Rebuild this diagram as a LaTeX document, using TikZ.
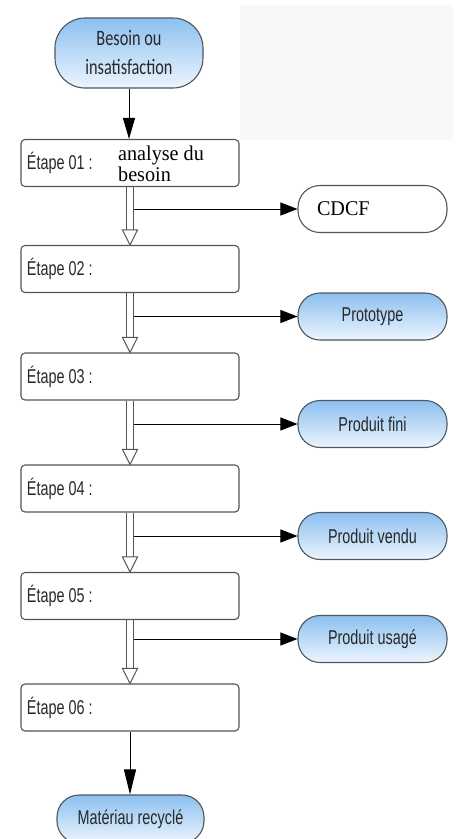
\documentclass[tikz,border=0pt]{standalone}
\usepackage{fontspec}
\setmainfont{Liberation Sans}
\newfontfamily\nsans[FakeStretch=0.72]{Liberation Sans}
\newfontfamily\ncal[FakeStretch=0.74]{Carlito}
\newfontfamily\tserif[FakeStretch=0.96]{Liberation Serif}
\usetikzlibrary{arrows.meta,calc}
\definecolor{edge}{RGB}{80,86,92}
\definecolor{txt}{RGB}{40,40,40}
\definecolor{blueTop}{RGB}{140,192,240}
\definecolor{blueBot}{RGB}{236,245,253}
\definecolor{faint}{RGB}{248,248,248}
\tikzset{
 stepbox/.style={draw=edge, line width=1.1pt, rounded corners=4pt, fill=white, minimum width=218pt, minimum height=47pt, text width=206pt, align=flush left, inner xsep=6pt, font=\nsans\fontsize{20}{22}\selectfont, text=txt},
 term/.style={draw=edge, line width=1.1pt, rounded corners=22pt, minimum width=149pt, minimum height=47pt, top color=blueTop, bottom color=blueBot, font=\nsans\fontsize{20}{22}\selectfont, text=txt, align=center},
 termwhite/.style={draw=edge, line width=1.1pt, rounded corners=22pt, minimum width=149pt, minimum height=47pt, fill=white, text width=111pt, align=flush left, inner xsep=0pt, font=\tserif\fontsize{21}{22}\selectfont, text=black},
 conn/.style={draw=black, line width=1pt},
 hollow/.style={draw=edge, line width=1pt},
 filledhead/.style={-{Triangle[length=17pt,width=13pt]}},
}
\newcommand{\hollowlink}[2]{%
 \draw[hollow] ($(#1.south)+(-3.5,0)$) -- ($(#2.north)+(-3.5,-15)$);
 \draw[hollow] ($(#1.south)+(3.5,0)$) -- ($(#2.north)+(3.5,-15)$);
 \draw[hollow,fill=white] ($(#2.north)+(-7.5,-15)$) -- ($(#2.north)+(7.5,-15)$) -- (#2.north) -- cycle;
}
\begin{document}
\begin{tikzpicture}[x=1pt,y=-1pt]
\useasboundingbox (0,0) rectangle (459,839);
\fill[faint] (240,5) rectangle (453,140);
% main column
\node[term, minimum width=148pt, minimum height=70pt, rounded corners=30pt, font=\ncal\fontsize{22}{29}\selectfont] (start) at (129,53) {Besoin ou\\insatisfaction};
\node[stepbox] (e1) at (130,163) {Étape 01 :};
\node[stepbox] (e2) at (130,269) {Étape 02 :};
\node[stepbox] (e3) at (130,376.5) {Étape 03 :};
\node[stepbox] (e4) at (130,488.5) {Étape 04 :};
\node[stepbox] (e5) at (130,596) {Étape 05 :};
\node[stepbox] (e6) at (130,707.5) {Étape 06 :};
\node[term, minimum width=147pt, minimum height=48pt] (end) at (130.5,819) {Matériau recyclé};
\node[font=\tserif\fontsize{21}{21}\selectfont, anchor=north west, align=flush left, inner sep=0pt, text=black] (e1t) at (118,146) {analyse du\\besoin};
% outputs
\node[termwhite] (c1) at (372.5,209) {CDCF};
\node[term] (c2) at (372.5,316.5) {Prototype};
\node[term] (c3) at (372.5,424) {Produit fini};
\node[term] (c4) at (372.5,536) {Produit vendu};
\node[term] (c5) at (372.5,639) {Produit usagé};
% connectors
\draw[conn, -{Triangle[length=21pt,width=12pt]}] (start.south) -- (start.south |- e1.north);
\hollowlink{e1}{e2}
\hollowlink{e2}{e3}
\hollowlink{e3}{e4}
\hollowlink{e4}{e5}
\hollowlink{e5}{e6}
\coordinate (s1) at ($(e1.south)+(3.5,0)$);
\coordinate (s2) at ($(e2.south)+(3.5,0)$);
\coordinate (s3) at ($(e3.south)+(3.5,0)$);
\coordinate (s4) at ($(e4.south)+(3.5,0)$);
\coordinate (s5) at ($(e5.south)+(3.5,0)$);
\draw[conn, filledhead] (s1 |- c1.west) -- (c1.west);
\draw[conn, filledhead] (s2 |- c2.west) -- (c2.west);
\draw[conn, filledhead] (s3 |- c3.west) -- (c3.west);
\draw[conn, filledhead] (s4 |- c4.west) -- (c4.west);
\draw[conn, filledhead] (s5 |- c5.west) -- (c5.west);
\draw[conn, -{Triangle[length=25pt,width=12pt]}] (e6.south) -- (e6.south |- end.north);
\end{tikzpicture}
\end{document}
